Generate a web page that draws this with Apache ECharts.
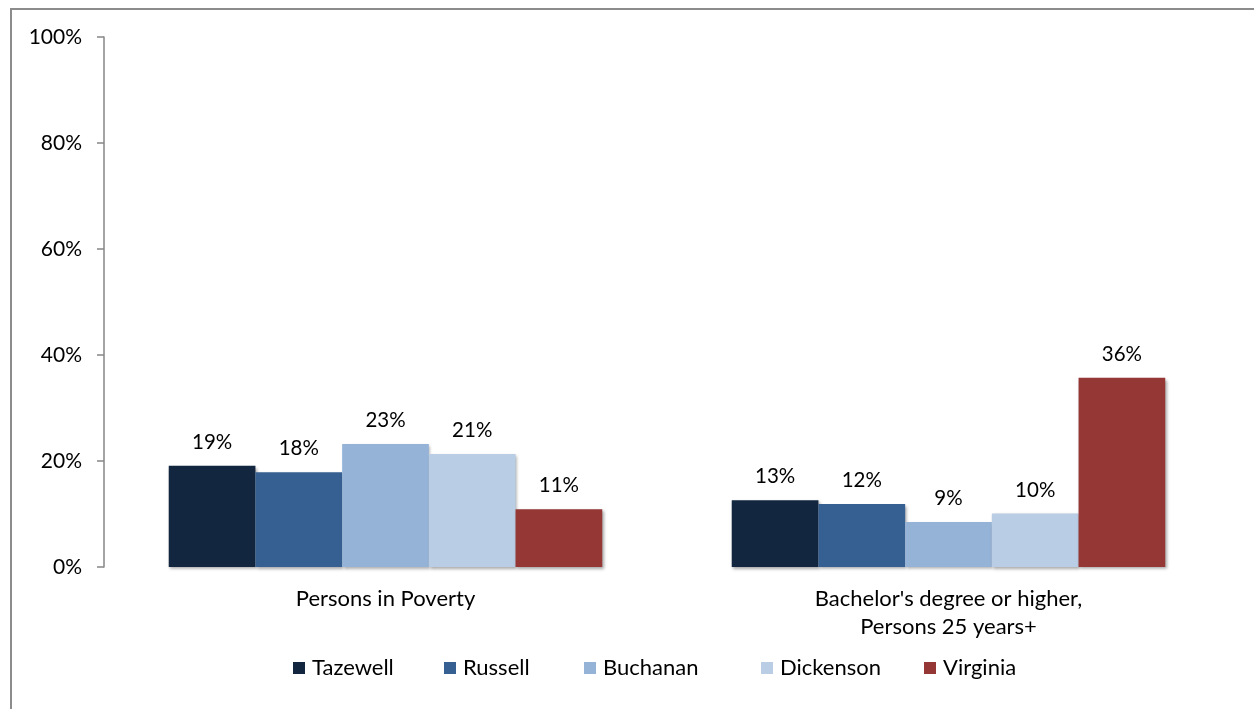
<!DOCTYPE html>
<html>
<head>
<meta charset="utf-8">
<script src="https://cdn.jsdelivr.net/npm/echarts@6/dist/echarts.min.js"></script>
<style>
  html, body { margin: 0; padding: 0; background: #ffffff; }
  #chart { width: 1254px; height: 709px; }
</style>
</head>
<body>
<div id="chart"></div>
<script>
// Indicators compared across the four counties and the state
const categories = ["Persons in Poverty", "Bachelor's degree or higher,\nPersons 25 years+"];
const seriesNames = ["Tazewell", "Russell", "Buchanan", "Dickenson", "Virginia"];
const tazewell = [19.1, 12.6];
const russell = [17.9, 11.9];
const buchanan = [23.2, 8.5];
const dickenson = [21.3, 10.1];
const virginia = [10.9, 35.7];
const yTicks = [0, 20, 40, 60, 80, 100];

const seriesValues = [tazewell, russell, buchanan, dickenson, virginia];
const colors = ["#12263F", "#376092", "#95B3D7", "#B9CDE5", "#953735"];
const legendLeft = [293, 444, 584, 761, 924];
const FONT = "Lato";

const chart = echarts.init(document.getElementById('chart'), null, { renderer: 'canvas' });

chart.setOption({
  animation: false,
  backgroundColor: '#ffffff',
  textStyle: { fontFamily: FONT },
  graphic: [{
    type: 'rect',
    shape: { x: 11, y: 9, width: 1400, height: 900 },
    style: { fill: 'none', stroke: '#8c8c8c', lineWidth: 2 },
    silent: true
  }],
  grid: { left: 104, right: 24, top: 37, bottom: 142, containLabel: false },
  // one legend block per series so each entry sits at its own position
  legend: seriesNames.map((name, i) => ({
    left: legendLeft[i],
    top: 657,
    padding: 0,
    itemWidth: 12,
    itemHeight: 12,
    icon: 'rect',
    textStyle: { fontFamily: FONT, fontSize: 22, color: '#000000', padding: [0, 0, 0, 2] },
    data: [name]
  })),
  xAxis: {
    type: 'category',
    data: categories,
    axisLine: { show: false },
    axisTick: { show: false },
    axisLabel: {
      fontFamily: FONT, fontSize: 22, color: '#000000',
      margin: 18, lineHeight: 28, interval: 0
    }
  },
  yAxis: {
    type: 'value',
    min: 0, max: 100, interval: 20,
    axisLine: { show: true, lineStyle: { color: '#868686', width: 1.5 } },
    axisTick: { show: true, length: 7, lineStyle: { color: '#868686', width: 1.5 } },
    splitLine: { show: false },
    axisLabel: {
      fontFamily: FONT, fontSize: 21, color: '#000000', margin: 22,
      customValues: yTicks,
      formatter: v => v + '%'
    }
  },
  series: seriesNames.map((name, i) => ({
    name: name,
    type: 'bar',
    data: seriesValues[i],
    barGap: '0%',
    barCategoryGap: '23%',
    itemStyle: {
      color: colors[i],
      shadowColor: 'rgba(0,0,0,0.35)',
      shadowBlur: 3,
      shadowOffsetX: 1.5,
      shadowOffsetY: 2
    },
    label: {
      show: true,
      position: 'top',
      distance: 13,
      fontFamily: FONT,
      fontSize: 20.5,
      color: '#000000',
      formatter: p => Math.round(p.value) + '%'
    }
  }))
});
</script>
</body>
</html>
